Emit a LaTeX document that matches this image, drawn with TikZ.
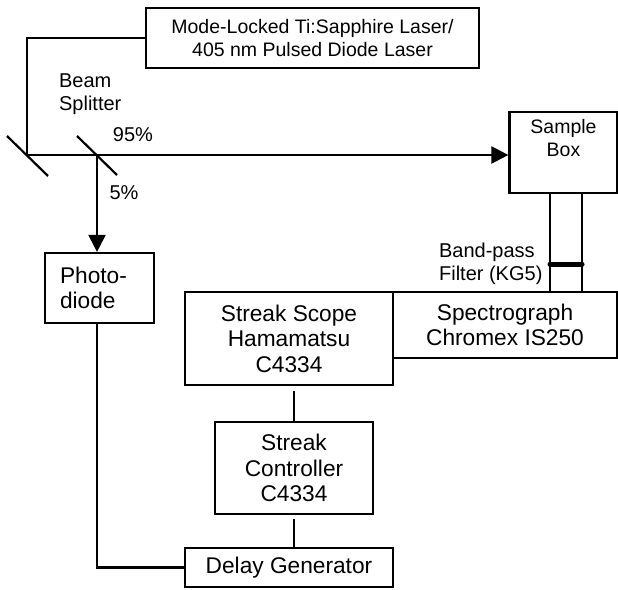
\documentclass[tikz,border=0pt]{standalone}
\usepackage{fontspec}
\setmainfont{Liberation Sans}
\usetikzlibrary{positioning,arrows.meta}

\begin{document}
\begin{tikzpicture}[x=1pt,y=-1pt]
\useasboundingbox (0,0) rectangle (618,589);
%% Draw instrument blocks

%% Draw beam path and signal lines
  \begin{scope}[line width=2.2pt,
       node distance=1cm,on grid,>={Triangle[length=17pt,width=17pt]},
       caja/.style={rectangle,draw,align=center,inner sep=2pt,font=\fontsize{22.7}{25.5}\selectfont},
       cajita/.style={caja,font=\fontsize{19.5}{23}\selectfont},
       rotulo/.style={inner sep=0pt,align=left,font=\fontsize{20}{23.5}\selectfont},
       filtro/.style={line width=5pt,line cap=round},]
   \node [caja,minimum width=208pt,minimum height=93pt] (scope) at (289,338.5) {Streak Scope\\ Hamamatsu\\ C4334};
   \node [caja,minimum width=224pt,minimum height=66pt] (spectro) [right=216pt of scope,yshift=13.5pt] {Spectrograph\\ Chromex IS250};
   \node [caja,minimum width=158pt,minimum height=92pt] (ctrl) [below=129.5pt of scope,xshift=5pt] {Streak\\ Controller\\ C4334};
   \node [caja,minimum width=208pt,minimum height=39pt] (delay) [below=229pt of scope] {Delay Generator};
   \node [caja,text width=79pt,align=left,inner xsep=15pt,minimum height=70pt] (photo) [left=189.5pt of scope,yshift=50.5pt] {Photo-\\ diode};
   \node [cajita,minimum width=108pt,minimum height=81pt,text depth=30pt] (sample) [right=274.5pt of scope,yshift=186pt] {Sample\\ Box};
   \node [cajita,minimum width=333pt,minimum height=60pt] (laser) [above=300.5pt of scope,xshift=23.5pt] {Mode-Locked Ti:Sapphire Laser/\\ 405 nm Pulsed Diode Laser};
   % mirror and beam splitter
   \coordinate (mirror) at (27,155);
   \coordinate (splitter) at (97,155);
   \draw ([shift={(-20,-19)}]mirror) -- ([shift={(21,21)}]mirror);
   \draw ([shift={(-20,-19)}]splitter) -- ([shift={(20,20)}]splitter);
   \draw (laser.west) -| (mirror);
   \draw[->] (mirror) -- (mirror -| sample.west);
   \draw[->] (splitter) -- (splitter |- photo.north);
   \node [rotulo,anchor=west] (bslabel) at (58,94) {Beam\\ Splitter};
   \node [rotulo] (p95) at (133,135) {95\%};
   \node [rotulo] (p5) at (124,193) {5\%};
   % sample box to spectrograph, with filter
   \draw ([xshift=-13.5pt]sample.south) -- ([xshift=-13.5pt]sample.south |- spectro.north);
   \draw ([xshift=18.5pt]sample.south) -- ([xshift=18.5pt]sample.south |- spectro.north);
   \coordinate (filtroA) at (550,264);
   \coordinate (filtroB) at (582,264);
   \draw[filtro] (filtroA) -- (filtroB);
   \node [rotulo,anchor=west] (bplabel) at (438,264) {Band-pass\\ Filter (KG5)};
   % electronics
   \draw[shorten <=5pt] (ctrl.north |- scope.south) -- (ctrl.north);
   \draw[shorten <=4pt] (ctrl.south) -- (ctrl.south |- delay.north);
   \draw (splitter |- photo.south) |- (delay.west);
%   \draw (scope.east) -- (spectro.west);
       \end{scope}
\end{tikzpicture}
\end{document}
